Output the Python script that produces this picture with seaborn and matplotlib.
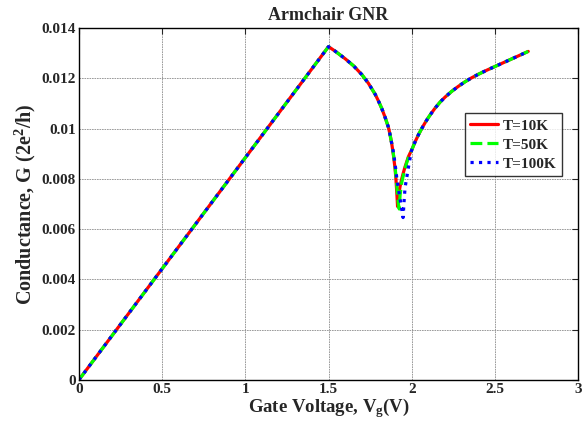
import pandas as pd
import matplotlib
matplotlib.use("Agg")
import matplotlib.pyplot as plt
import seaborn as sns

# Gate voltage (V) and conductance (2e^2/h).
# The three temperatures overlap except around the dip near 1.9 V.
v_left = [0, 1.5, 1.54, 1.6, 1.65, 1.7, 1.74, 1.78, 1.8, 1.82, 1.84, 1.86, 1.87, 1.88]
g_left = [0, 0.01326, 0.01308, 0.01278, 0.01250, 0.01215, 0.01180, 0.01137,
          0.01110, 0.01080, 0.01045, 0.01005, 0.00975, 0.00940]

v_right = [2.0, 2.02, 2.04, 2.06, 2.08, 2.1, 2.12, 2.14, 2.17, 2.2, 2.24, 2.28,
           2.32, 2.36, 2.4, 2.45, 2.5, 2.55, 2.6, 2.65, 2.7]
g_right = [0.00915, 0.00947, 0.00975, 0.01000, 0.01023, 0.01044, 0.01063,
           0.01081, 0.01105, 0.01125, 0.01148, 0.01168, 0.01186, 0.01202,
           0.01216, 0.01232, 0.01247, 0.01262, 0.01277, 0.01292, 0.01307]

v_dip_10k = [1.89, 1.9, 1.905, 1.91, 1.915, 1.92, 1.93, 1.94, 1.95, 1.96, 1.97, 1.98, 1.99]
g_dip_10k = [0.00895, 0.00840, 0.00800, 0.00750, 0.00690, 0.00730, 0.00770,
             0.00800, 0.00825, 0.00848, 0.00868, 0.00888, 0.00902]

v_dip_50k = [1.89, 1.9, 1.91, 1.915, 1.92, 1.925, 1.93, 1.94, 1.95, 1.96, 1.97, 1.98, 1.99]
g_dip_50k = [0.00898, 0.00848, 0.00775, 0.00735, 0.00700, 0.00680, 0.00735,
             0.00785, 0.00815, 0.00842, 0.00864, 0.00885, 0.00900]

v_dip_100k = [1.89, 1.9, 1.91, 1.92, 1.93, 1.94, 1.948, 1.955, 1.96, 1.97, 1.98, 1.99]
g_dip_100k = [0.00905, 0.00860, 0.00805, 0.00760, 0.00720, 0.00680, 0.00646,
              0.00720, 0.00765, 0.00805, 0.00845, 0.00882]

labels = ["T=10K", "T=50K", "T=100K"]
colors = ["#ff0000", "#00ff00", "#0000ff"]
styles = ["-", "--", ":"]

sns.set_style("white")
plt.rcParams["font.family"] = ["Liberation Serif", "DejaVu Serif"]
plt.rcParams["font.weight"] = "bold"
plt.rcParams["mathtext.fontset"] = "custom"
plt.rcParams["mathtext.rm"] = "Liberation Serif:bold"
plt.rcParams["mathtext.it"] = "Liberation Serif:bold"
plt.rcParams["mathtext.bf"] = "Liberation Serif:bold"

fig = plt.figure(figsize=(5.84, 4.25), dpi=100)
ax = fig.add_axes([0.135, 0.106, 0.855, 0.828])

dips = [(v_dip_10k, g_dip_10k), (v_dip_50k, g_dip_50k), (v_dip_100k, g_dip_100k)]
for (vd, gd), lab, c, ls in zip(dips, labels, colors, styles):
    df = pd.DataFrame({"V": v_left + vd + v_right, "G": g_left + gd + g_right})
    sns.lineplot(data=df, x="V", y="G", ax=ax, color=c, linestyle=ls,
                 linewidth=2.3, label=lab, sort=False)

ax.set_xlim(0, 3)
ax.set_ylim(0, 0.014)
ax.set_xticks([0, 0.5, 1, 1.5, 2, 2.5, 3])
ax.set_xticklabels(["0", "0.5", "1", "1.5", "2", "2.5", "3"])
ax.set_yticks([0, 0.002, 0.004, 0.006, 0.008, 0.01, 0.012, 0.014])
ax.set_yticklabels(["0", "0.002", "0.004", "0.006", "0.008", "0.01", "0.012", "0.014"])
ax.tick_params(direction="in", length=4, width=0.8, labelsize=11,
               top=True, right=True, pad=2)
for lab in ax.get_xticklabels() + ax.get_yticklabels():
    lab.set_fontweight("bold")
ax.grid(True, color="0.55", linestyle=(0, (2, 1)), linewidth=0.6)
for sp in ax.spines.values():
    sp.set_color("black")
    sp.set_linewidth(1.0)

ax.set_xlabel("Gate Voltage, V$_{\\mathrm{g}}$(V)", fontsize=13.5, fontweight="bold", labelpad=0)
ax.set_ylabel("Conductance, G (2e$^{\\mathrm{2}}$/h)", fontsize=14.5, fontweight="bold", labelpad=3)
ax.set_title("Armchair GNR", fontsize=13, fontweight="bold", pad=6)

leg = ax.legend(loc="upper right", bbox_to_anchor=(0.982, 0.779), fontsize=11,
                frameon=True, fancybox=False, handlelength=1.8,
                borderpad=0.35, labelspacing=0.35, handletextpad=0.3)
leg.get_frame().set_edgecolor("black")
leg.get_frame().set_linewidth(1.0)
for t in leg.get_texts():
    t.set_fontweight("bold")

fig.savefig("out.png", dpi=100)
